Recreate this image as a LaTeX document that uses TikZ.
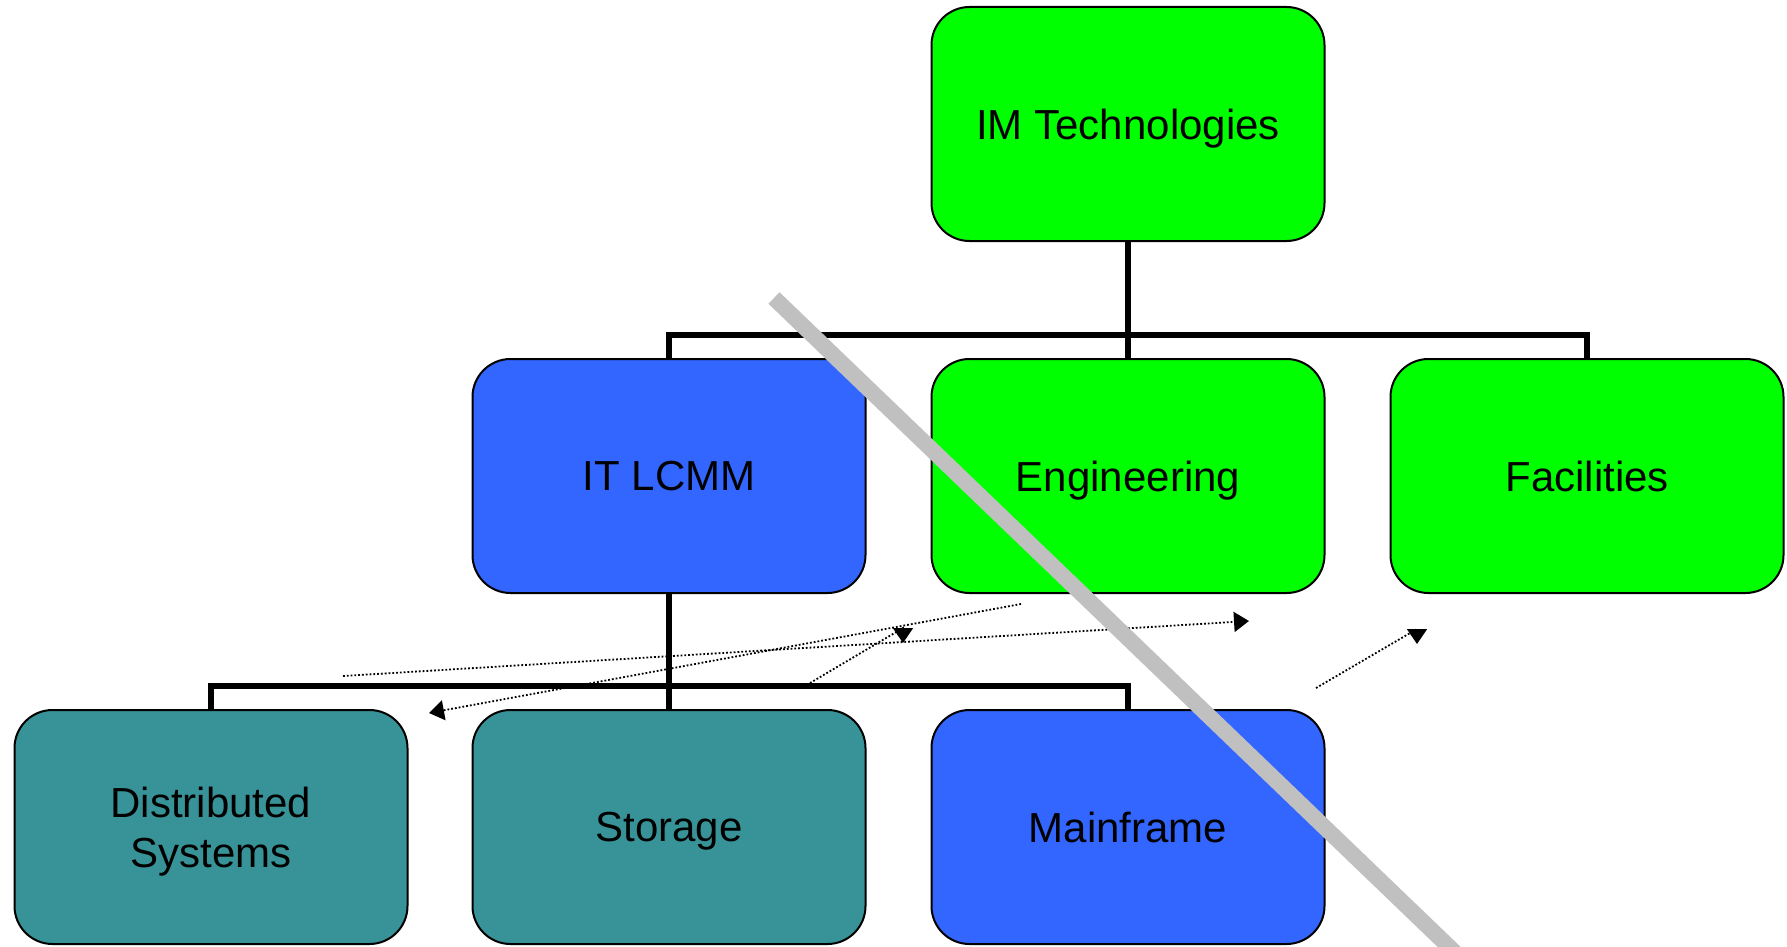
\documentclass[tikz,border=0pt]{standalone}
\usepackage{fontspec}
\setmainfont{Liberation Sans}
\usetikzlibrary{arrows.meta}
\definecolor{boxgreen}{HTML}{00FF00}
\definecolor{boxblue}{HTML}{3366FF}
\definecolor{boxteal}{HTML}{389399}
\definecolor{strike}{HTML}{C0C0C0}
\begin{document}
\begin{tikzpicture}[x=1pt,y=-1pt,
  orgbox/.style={draw=black, line width=2pt, rounded corners=38pt, minimum width=393pt, minimum height=234pt,
     inner sep=0pt, align=center, text depth=0pt, font=\fontsize{42}{50}\selectfont, text=black},
  green box/.style={orgbox, fill=boxgreen},
  blue box/.style={orgbox, fill=boxblue},
  teal box/.style={orgbox, fill=boxteal},
  tree/.style={draw=black, line width=6.5pt},
  dotarrow/.style={draw=black, line width=1.8pt, dash pattern=on 1.8pt off 2pt,
     -{Triangle[width=20pt,length=15pt]}},
  strikeline/.style={draw=strike, line width=16pt}]
\useasboundingbox (0,0) rectangle (1787,947);
\begin{scope}
\clip (0,0) rectangle (1787,947);
% junction coordinates
\coordinate (j1) at (1128,335);
\coordinate (j2) at (669,686);
% boxes
\node[green box] (im)  at (1128,124) {IM Technologies};
\node[blue box]  (itl) at (669,476)  {IT LCMM};
\node[green box] (eng) at (1128,476) {Engineering};
\node[green box] (fac) at (1587,476) {Facilities};
\node[teal box]  (ds)  at (211,827)  {Distributed\\Systems};
\node[teal box]  (sto) at (669,827)  {Storage};
\node[blue box]  (mf)  at (1128,827) {Mainframe};
% tree connectors
\draw[tree] (im.south) -- (eng.north);
\draw[tree] (itl.north) |- (j1) -| (fac.north);
\draw[tree] (itl.south) -- (sto.north);
\draw[tree] (ds.north) |- (j2) -| (mf.north);
% dotted arrows
\coordinate (a1s) at (343,676);
\coordinate (a1e) at (1249,621);
\coordinate (a2s) at (1021,604);
\coordinate (a2e) at (429,713);
\coordinate (a3s) at (810,683);
\coordinate (a3m) at (903,628);
\coordinate (a3e) at (903,643);
\coordinate (a4s) at (1316,688);
\coordinate (a4m) at (1417,629);
\coordinate (a4e) at (1417,644);
\draw[dotarrow] (a1s) -- (a1e);
\draw[dotarrow] (a2s) -- (a2e);
\draw[dotarrow] (a3s) -- (a3m) -- (a3e);
\draw[dotarrow] (a4s) -- (a4m) -- (a4e);
% gray strike line
\coordinate (g1) at (774,298);
\coordinate (g2) at (1470,967);
\draw[strikeline] (g1) -- (g2);
\end{scope}
\end{tikzpicture}
\end{document}
